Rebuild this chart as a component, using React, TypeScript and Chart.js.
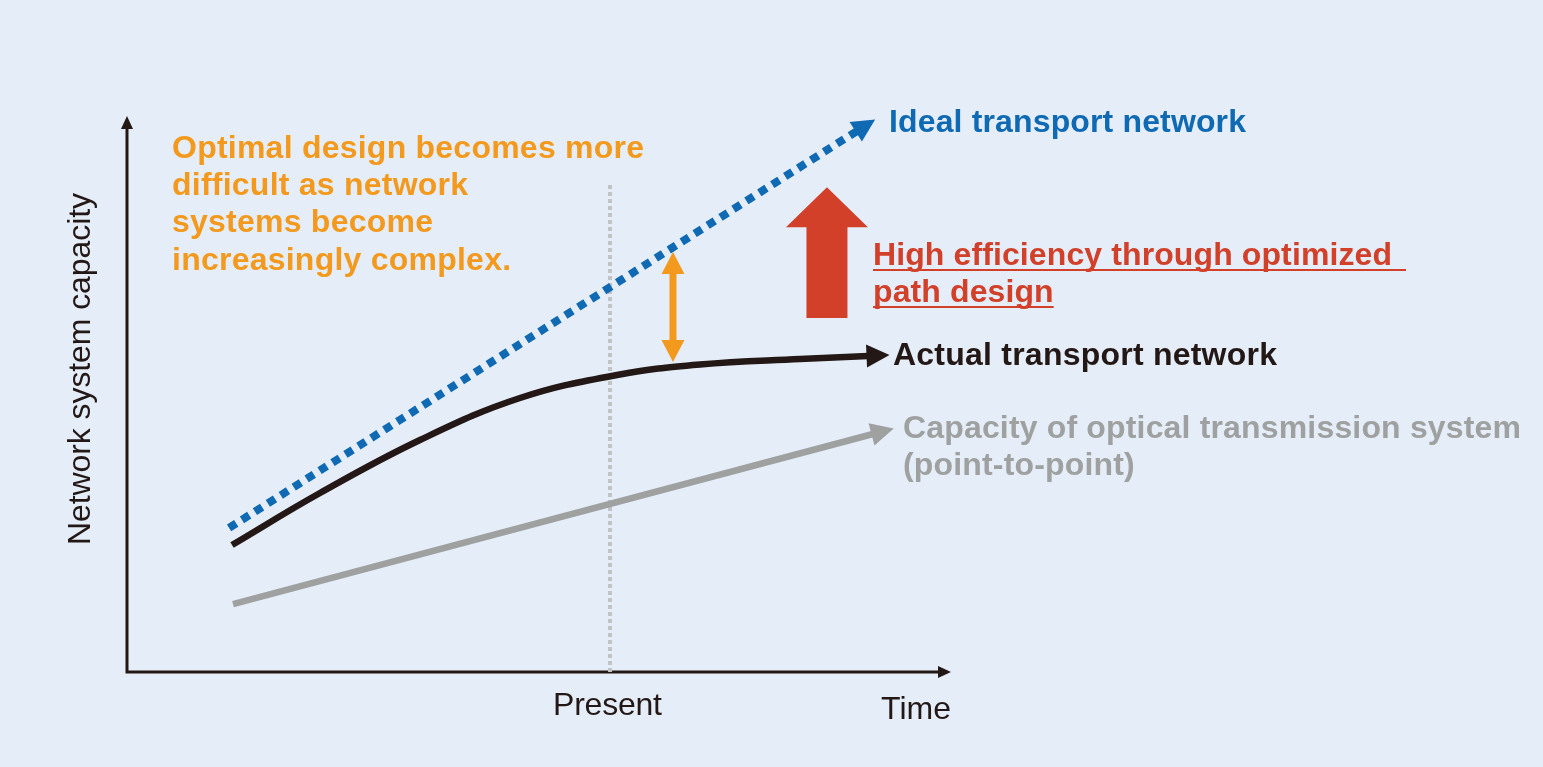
import React, { useEffect, useRef } from "react";
import { Chart, registerables } from "chart.js";

Chart.register(...registerables);

// Time axis runs 0..100, capacity axis runs 0..100 (conceptual units)
const idealTime = [12.4, 88.7];
const idealCapacity = [26.0, 97.65];

const actualTime = [12.76, 23.45, 35.6, 47.75, 59.54, 69.62, 81.77, 90.04];
const actualCapacity = [22.92, 32.31, 41.88, 49.46, 53.61, 55.51, 56.5, 57.04];

const opticalTime = [12.88, 90.64];
const opticalCapacity = [12.27, 42.96];

const presentTime = 58.69;
const presentTop = 88.4;

// gap between ideal and actual, shown by the double-headed arrow
const gapTime = 66.34;
const gapRange = [55.96, 75.81];

// efficiency gain arrow
const boostTime = 85.05;
const boostRange = [63.9, 87.5];

const BLUE = "#0f69b3";
const BLACK = "#231815";
const GRAY = "#9fa0a0";
const ORANGE = "#f39a1e";
const RED = "#d2402a";
const BG = "#e5eef8";
const FONT = '"Liberation Sans", Arial, Helvetica, sans-serif';

const pts = (xs: number[], ys: number[]) => xs.map((x, i) => ({ x, y: ys[i] }));

function spacingFor(ctx: CanvasRenderingContext2D, text: string, font: string, width: number) {
  ctx.font = font;
  (ctx as any).letterSpacing = "0px";
  const w0 = ctx.measureText(text).width;
  return (width - w0) / (text.length - 1);
}

function drawText(
  ctx: CanvasRenderingContext2D,
  text: string,
  x: number,
  y: number,
  font: string,
  color: string,
  spacing: number
) {
  ctx.font = font;
  (ctx as any).letterSpacing = spacing + "px";
  ctx.fillStyle = color;
  ctx.textAlign = "left";
  ctx.textBaseline = "alphabetic";
  ctx.fillText(text, x, y);
  (ctx as any).letterSpacing = "0px";
}

function arrowHead(
  ctx: CanvasRenderingContext2D,
  bx: number,
  by: number,
  dx: number,
  dy: number,
  len: number,
  half: number,
  color: string
) {
  const n = Math.hypot(dx, dy);
  const ux = dx / n;
  const uy = dy / n;
  const px = -uy;
  const py = ux;
  const sx = bx - ux * 1.5;
  const sy = by - uy * 1.5;
  ctx.beginPath();
  ctx.moveTo(sx + ux * len, sy + uy * len);
  ctx.lineTo(sx + px * half, sy + py * half);
  ctx.lineTo(sx - px * half, sy - py * half);
  ctx.closePath();
  ctx.fillStyle = color;
  ctx.fill();
}

const overlay = {
  id: "diagramOverlay",
  beforeDatasetsDraw(chart: any) {
    const ctx: CanvasRenderingContext2D = chart.ctx;
    const { left, right, top, bottom } = chart.chartArea;
    ctx.save();
    // axes with arrow tips
    ctx.strokeStyle = BLACK;
    ctx.lineWidth = 3;
    ctx.lineCap = "butt";
    ctx.beginPath();
    ctx.moveTo(left, top + 10);
    ctx.lineTo(left, bottom);
    ctx.lineTo(right - 10, bottom);
    ctx.stroke();
    ctx.fillStyle = BLACK;
    ctx.beginPath();
    ctx.moveTo(left, top - 2);
    ctx.lineTo(left - 6, top + 11);
    ctx.lineTo(left + 6, top + 11);
    ctx.closePath();
    ctx.fill();
    ctx.beginPath();
    ctx.moveTo(right + 1, bottom);
    ctx.lineTo(right - 12, bottom - 6);
    ctx.lineTo(right - 12, bottom + 6);
    ctx.closePath();
    ctx.fill();
    ctx.restore();
  },
  afterDatasetsDraw(chart: any) {
    const ctx: CanvasRenderingContext2D = chart.ctx;
    const xs = chart.scales.x;
    const ys = chart.scales.y;
    ctx.save();

    // arrow heads at the end of the three curves
    const heads = [
      { idx: 0, color: BLUE },
      { idx: 1, color: BLACK },
      { idx: 2, color: GRAY },
    ];
    heads.forEach(({ idx, color }) => {
      const d = chart.data.datasets[idx].data;
      const a = d[d.length - 2];
      const b = d[d.length - 1];
      const ax = xs.getPixelForValue(a.x);
      const ay = ys.getPixelForValue(a.y);
      const bx = xs.getPixelForValue(b.x);
      const by = ys.getPixelForValue(b.y);
      arrowHead(ctx, bx, by, bx - ax, by - ay, 23, 11.5, color);
    });

    // orange double-headed arrow
    const gx = xs.getPixelForValue(gapTime);
    const gBot = ys.getPixelForValue(gapRange[0]);
    const gTop = ys.getPixelForValue(gapRange[1]);
    ctx.strokeStyle = ORANGE;
    ctx.lineWidth = 7;
    ctx.beginPath();
    ctx.moveTo(gx, gTop + 18);
    ctx.lineTo(gx, gBot - 18);
    ctx.stroke();
    ctx.fillStyle = ORANGE;
    ctx.beginPath();
    ctx.moveTo(gx, gTop);
    ctx.lineTo(gx - 11.5, gTop + 22);
    ctx.lineTo(gx + 11.5, gTop + 22);
    ctx.closePath();
    ctx.fill();
    ctx.beginPath();
    ctx.moveTo(gx, gBot);
    ctx.lineTo(gx - 11.5, gBot - 22);
    ctx.lineTo(gx + 11.5, gBot - 22);
    ctx.closePath();
    ctx.fill();

    // big red arrow
    const rx = xs.getPixelForValue(boostTime);
    const rBot = ys.getPixelForValue(boostRange[0]);
    const rTop = ys.getPixelForValue(boostRange[1]);
    ctx.fillStyle = RED;
    ctx.beginPath();
    ctx.moveTo(rx, rTop);
    ctx.lineTo(rx + 41, rTop + 40);
    ctx.lineTo(rx + 20.5, rTop + 40);
    ctx.lineTo(rx + 20.5, rBot);
    ctx.lineTo(rx - 20.5, rBot);
    ctx.lineTo(rx - 20.5, rTop + 40);
    ctx.lineTo(rx - 41, rTop + 40);
    ctx.closePath();
    ctx.fill();

    ctx.restore();
  },
  afterDraw(chart: any) {
    const ctx: CanvasRenderingContext2D = chart.ctx;
    ctx.save();
    const bold = `bold 32px ${FONT}`;
    const reg = `32px ${FONT}`;

    // orange note
    const sO = spacingFor(ctx, "Optimal design becomes more", bold, 472);
    drawText(ctx, "Optimal design becomes more", 172, 158, bold, ORANGE, sO);
    drawText(ctx, "difficult as network", 172, 195, bold, ORANGE, sO);
    drawText(ctx, "systems become", 172, 232, bold, ORANGE, sO);
    drawText(ctx, "increasingly complex.", 172, 270, bold, ORANGE, sO);

    // curve labels
    const sB = spacingFor(ctx, "Ideal transport network", bold, 357);
    drawText(ctx, "Ideal transport network", 889, 132, bold, BLUE, sB);

    const sA = spacingFor(ctx, "Actual transport network", bold, 384);
    drawText(ctx, "Actual transport network", 893, 365, bold, BLACK, sA);

    const sG = spacingFor(ctx, "Capacity of optical transmission system", bold, 618);
    drawText(ctx, "Capacity of optical transmission system", 903, 438, bold, GRAY, sG);
    drawText(ctx, "(point-to-point)", 903, 475, bold, GRAY, sG);

    // red underlined note
    const sR = spacingFor(ctx, "High efficiency through optimized", bold, 519);
    drawText(ctx, "High efficiency through optimized ", 873, 265, bold, RED, sR);
    drawText(ctx, "path design", 873, 302, bold, RED, sR);
    ctx.font = bold;
    (ctx as any).letterSpacing = sR + "px";
    const w2 = ctx.measureText("path design").width - sR;
    (ctx as any).letterSpacing = "0px";
    ctx.strokeStyle = RED;
    ctx.lineWidth = 2;
    ctx.beginPath();
    ctx.moveTo(873, 270);
    ctx.lineTo(1406, 270);
    ctx.moveTo(873, 307);
    ctx.lineTo(873 + w2, 307);
    ctx.stroke();

    // axis titles
    const sT = spacingFor(ctx, "Network system capacity", reg, 352);
    ctx.save();
    ctx.translate(90, 545);
    ctx.rotate(-Math.PI / 2);
    drawText(ctx, "Network system capacity", 0, 0, reg, BLACK, sT);
    ctx.restore();

    const sP = spacingFor(ctx, "Present", reg, 109);
    drawText(ctx, "Present", 553, 715, reg, BLACK, sP);
    const sTi = spacingFor(ctx, "Time", reg, 70);
    drawText(ctx, "Time", 881, 719, reg, BLACK, sTi);

    ctx.restore();
  },
};

export default function App() {
  const ref = useRef<HTMLCanvasElement | null>(null);

  useEffect(() => {
    if (!ref.current) return;
    const chart = new Chart(ref.current, {
      type: "line",
      data: {
        datasets: [
          {
            label: "Ideal transport network",
            data: pts(idealTime, idealCapacity),
            borderColor: BLUE,
            borderWidth: 8,
            borderDash: [8.5, 6.8],
            borderCapStyle: "butt",
            pointRadius: 0,
            order: 1,
          },
          {
            label: "Actual transport network",
            data: pts(actualTime, actualCapacity),
            borderColor: BLACK,
            borderWidth: 6.5,
            tension: 0.4,
            borderCapStyle: "butt",
            pointRadius: 0,
            order: 2,
          },
          {
            label: "Capacity of optical transmission system",
            data: pts(opticalTime, opticalCapacity),
            borderColor: GRAY,
            borderWidth: 6.5,
            borderCapStyle: "butt",
            pointRadius: 0,
            order: 3,
          },
          {
            label: "Present",
            data: [
              { x: presentTime, y: 0 },
              { x: presentTime, y: presentTop },
            ],
            borderColor: "#c2c3c4",
            borderWidth: 4,
            borderDash: [4, 3],
            borderCapStyle: "butt",
            pointRadius: 0,
            order: 10,
          },
        ],
      },
      options: {
        animation: false,
        responsive: false,
        events: [],
        layout: { padding: { left: 127, right: 593, top: 118, bottom: 95 } },
        plugins: { legend: { display: false }, tooltip: { enabled: false } },
        scales: {
          x: { type: "linear", min: 0, max: 100, display: false },
          y: { type: "linear", min: 0, max: 100, display: false },
        },
      },
      plugins: [overlay],
    } as any);
    return () => chart.destroy();
  }, []);

  return (
    <div style={{ position: "fixed", inset: 0, background: BG, overflow: "hidden" }}>
      <canvas ref={ref} width={1543} height={767} style={{ display: "block" }} />
    </div>
  );
}
